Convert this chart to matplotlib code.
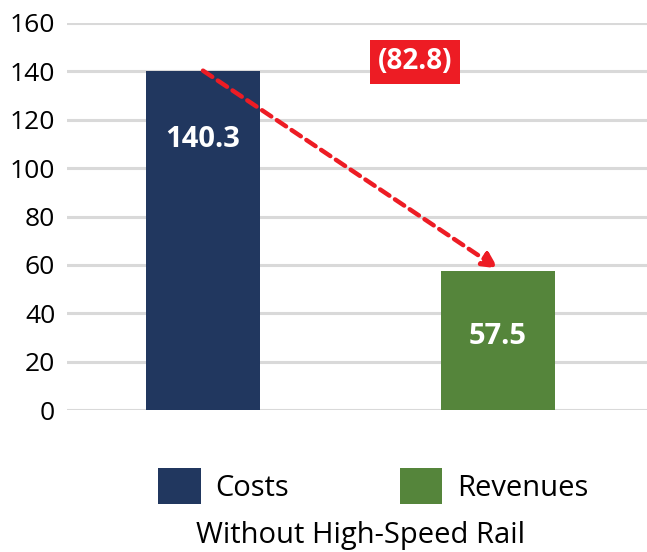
import matplotlib.pyplot as plt
from matplotlib.patches import Patch

categories = ["Costs", "Revenues"]
values = [140.3, 57.5]
bar_labels = ["140.3", "57.5"]
gap_label = "(82.8)"
xlabel = "Without High-Speed Rail"
yticks = [0, 20, 40, 60, 80, 100, 120, 140, 160]

navy = "#21375f"
green = "#55853b"
red = "#ed1c24"

plt.rcParams['font.family'] = ['Open Sans', 'DejaVu Sans']

fig = plt.figure(figsize=(6.47, 5.52), dpi=100)
ax = fig.add_axes([67 / 647, 1 - 410 / 552, 1 - 67 / 647, (410 - 23) / 552])

x = [0, 1]
ax.bar(x, values, width=0.386, color=[navy, green], zorder=3)
ax.set_xlim(-0.461, 1.505)
ax.set_ylim(0, 160)
ax.set_yticks(yticks)
ax.set_xticks([])
ax.tick_params(axis='y', length=0, labelsize=19, pad=8.5)
ax.grid(axis='y', color='#d9d9d9', linewidth=2.2, zorder=0)
for s in ax.spines.values():
    s.set_visible(False)

# value labels inside the bars
label_y = [112, 30.5]
for xi, ly, txt in zip(x, label_y, bar_labels):
    ax.text(xi, ly, txt, ha='center', va='center', color='white',
            fontsize=21, fontweight='bold', zorder=4)

# dashed arrow from costs to revenues
ax.annotate('', xy=(x[1], values[1] + 1), xytext=(x[0], values[0]),
            arrowprops=dict(arrowstyle='-|>,head_length=0.9,head_width=0.45',
                            linestyle=(0, (2.5, 1.5)), color=red, lw=3.2,
                            shrinkA=0, shrinkB=0),
            zorder=5)

ax.text(0.719, 144, gap_label, ha='center', va='center', color='white',
        fontsize=20, fontweight='bold', zorder=6,
        bbox=dict(boxstyle='square,pad=0.27', facecolor=red, edgecolor='none'))

handles = [Patch(facecolor=navy), Patch(facecolor=green)]
fig.legend(handles, categories, loc='center', bbox_to_anchor=(373 / 647, 1 - 486 / 552),
           ncol=2, frameon=False, fontsize=21, handlelength=1.47, handleheight=1.47,
           handletextpad=0.5, columnspacing=3.8)

fig.text(360 / 647, 1 - 535 / 552, xlabel, ha='center', va='center', fontsize=21)

fig.savefig('out.png', dpi=100)
